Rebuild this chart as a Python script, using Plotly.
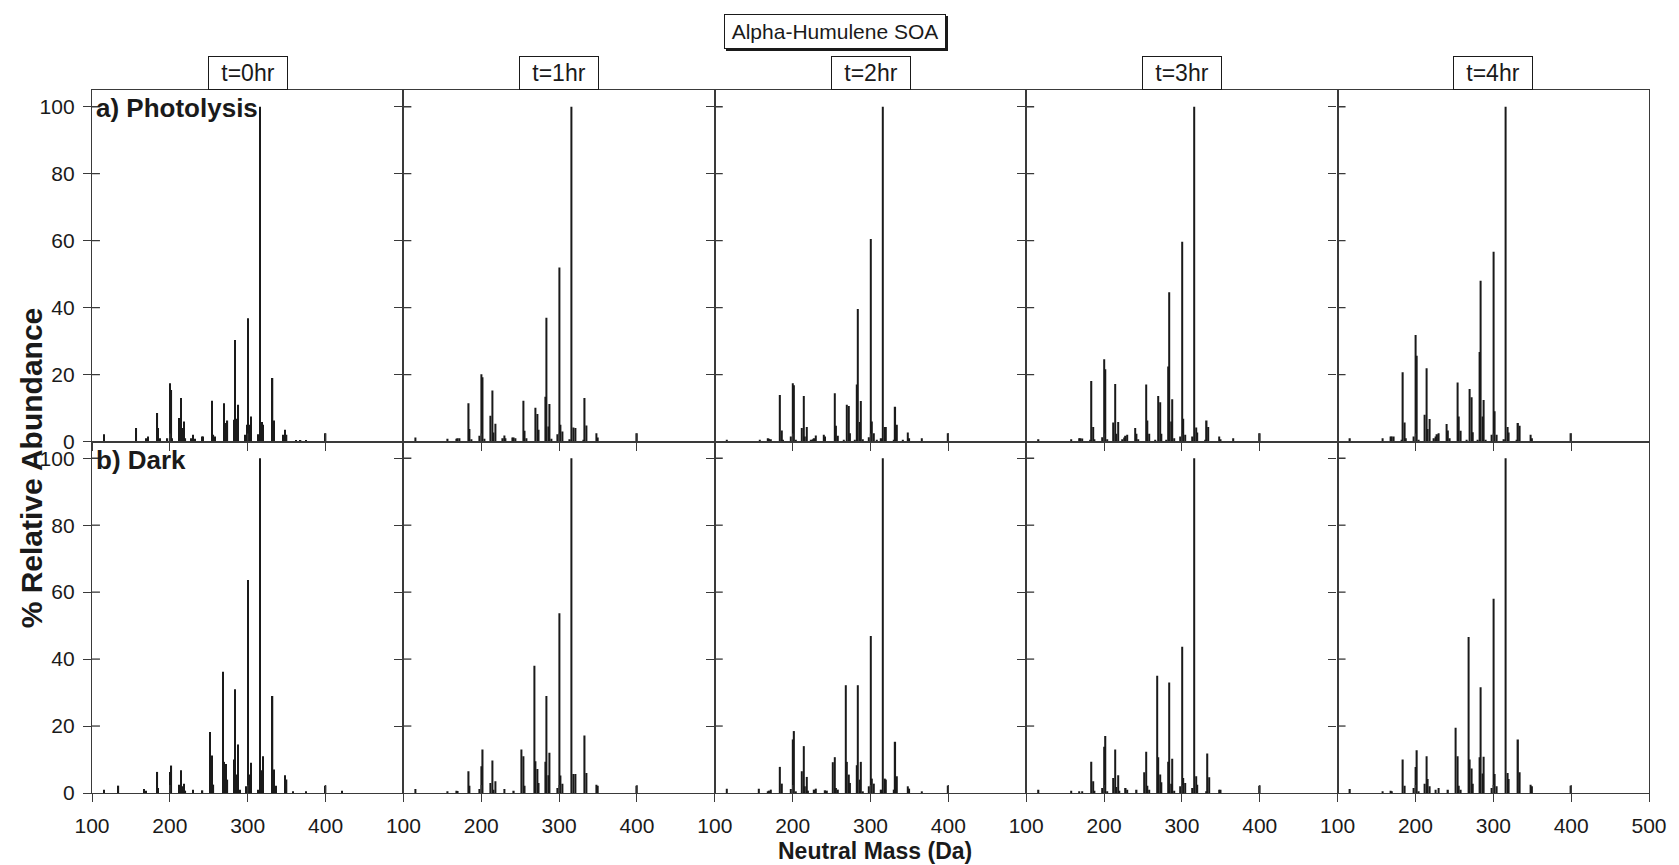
import plotly.graph_objects as go

# ---------------- data (neutral mass in Da, % relative abundance) ----------------
time_labels = ["t=0hr", "t=1hr", "t=2hr", "t=3hr", "t=4hr"]
row_labels = ["a) Photolysis", "b) Dark"]
x_tick_vals = [100, 200, 300, 400, 500]
y_tick_vals = [0, 20, 40, 60, 80, 100]

photo_t0_mass = [115, 157, 169, 172, 184, 185, 187, 197, 200, 202, 203, 212, 214, 216, 218, 220, 228, 230, 232, 241, 243,
                 254, 256, 258, 270, 272, 274, 282, 284, 286, 288, 297, 299, 300, 302, 304, 314, 316, 318, 320, 331, 332,
                 334, 346, 348, 350, 362, 368, 375, 400]
photo_t0_abund = [2.2, 4, 1.0, 1.5, 8.5, 4, 1, 1, 17.4, 15.4, 1, 7, 13, 4, 6, 1, 1, 2, 0.8, 1.5, 1.5,
                  12.2, 2, 1.5, 11.4, 5.5, 6.3, 6.5, 30.3, 6.8, 11, 2, 5, 36.8, 5, 7.5, 2.2, 100, 5.8, 5, 1, 19,
                  6.3, 2, 3.5, 2, 0.3, 0.3, 0.3, 2.5]

photo_t1_mass = [115, 157, 168, 170, 172, 184, 185, 187, 198, 200, 202, 204, 212, 214, 216, 218, 228, 230, 231, 240, 242,
                 244, 254, 256, 258, 270, 272, 274, 282, 284, 286, 288, 290, 298, 300, 302, 304, 314, 316, 318, 321, 331,
                 333, 335, 348, 350, 400]
photo_t1_abund = [1.2, 0.8, 0.8, 1, 1, 11.4, 3.7, 0.7, 1.7, 20.1, 19.2, 0.8, 7.7, 15.2, 2.7, 5.3, 1, 1.8, 1, 1.2, 1.2,
                  1, 12.2, 3.2, 1, 10.1, 8.2, 3.5, 13.4, 37, 4.5, 11.2, 0.8, 2.2, 52, 5, 3, 0.7, 100, 4.2, 4, 0.5,
                  13, 4.8, 2.5, 1.2, 2.5]

photo_t2_mass = [115, 158, 168, 170, 172, 184, 186, 188, 198, 200, 202, 204, 212, 214, 216, 218, 224, 226, 228, 230, 240,
                 242, 254, 256, 258, 266, 270, 272, 274, 280, 282, 284, 286, 288, 290, 298, 300, 302, 304, 308, 314, 316,
                 318, 320, 330, 332, 334, 342, 348, 350, 366, 400]
photo_t2_abund = [0.5, 0.5, 1, 0.8, 0.7, 13.9, 3.3, 0.5, 1.5, 17.4, 16.8, 0.5, 4, 13.6, 1.5, 4.3, 0.5, 0.7, 1, 1.8, 2,
                  1.5, 14.4, 4.7, 1.7, 0.5, 11, 10.6, 2.5, 0.5, 17, 39.6, 5.8, 12.1, 0.7, 1.3, 60.5, 6, 2.5, 0.5, 1, 100,
                  4.3, 4.3, 0.5, 10.4, 5, 0.5, 2.7, 1, 1, 2.5]

photo_t3_mass = [116, 158, 168, 170, 172, 182, 184, 186, 188, 198, 200, 202, 204, 212, 214, 216, 218, 224, 226, 228, 230,
                 240, 242, 244, 254, 256, 258, 266, 270, 272, 274, 280, 282, 284, 286, 288, 290, 298, 300, 302, 304, 314,
                 316, 318, 320, 330, 332, 334, 348, 350, 366, 400]
photo_t3_abund = [0.7, 0.7, 1, 1, 0.9, 0.5, 18.1, 4.3, 0.7, 1.3, 24.6, 21.6, 0.7, 5.7, 17.2, 2.3, 5.8, 0.7, 1.2, 1.7, 2,
                  4, 2.3, 0.7, 17, 6.3, 2.3, 0.5, 13.6, 11.7, 2.3, 0.5, 22.4, 44.6, 6, 12.6, 1, 1.5, 59.7, 6.8, 2, 1.5,
                  100, 4.2, 2.7, 0.5, 6.3, 4.3, 1.5, 0.7, 1, 2.5]

photo_t4_mass = [116, 158, 168, 170, 172, 182, 184, 186, 188, 198, 200, 202, 204, 212, 214, 216, 218, 224, 226, 228, 230,
                 240, 242, 244, 254, 256, 258, 266, 270, 272, 274, 280, 282, 284, 286, 288, 290, 298, 300, 302, 304, 314,
                 316, 318, 320, 330, 332, 334, 348, 350, 400]
photo_t4_abund = [1, 1, 1.5, 1.5, 1.5, 0.5, 20.7, 5.7, 1, 1.5, 31.8, 25.6, 0.5, 8, 21.9, 3.7, 6.7, 1, 1.5, 2.2, 2.5,
                  5.2, 3.3, 1, 17.6, 7.5, 3.2, 0.5, 15.7, 13.2, 2.8, 0.5, 26.7, 48, 7.5, 12.4, 0.5, 2, 56.7, 9, 2, 0.7,
                  100, 4.3, 2.7, 0.5, 5.5, 4.7, 2, 1, 2.5]

dark_t0_mass = [115, 134, 167, 169, 184, 185, 200, 202, 212, 214, 216, 218, 220, 230, 242, 252, 254, 256, 268, 270, 272,
                274, 282, 284, 286, 288, 290, 298, 300, 302, 304, 314, 316, 318, 320, 331, 332, 334, 336, 348, 350, 358,
                375, 400, 421]
dark_t0_abund = [1, 2.2, 1.2, 0.7, 6.3, 1.5, 6.3, 8.2, 2.5, 6.8, 2, 2.8, 0.7, 1, 0.8, 18.2, 11.2, 2.5, 36.2, 9.3, 8.7,
                 4, 10, 31, 5.5, 14.5, 1, 2, 63.6, 5.5, 9, 1, 100, 6.8, 11, 0.7, 29, 7, 2.2, 5.3, 4, 0.5,
                 0.5, 2.2, 0.7]

dark_t1_mass = [115, 157, 168, 170, 184, 185, 198, 200, 202, 212, 214, 216, 218, 230, 242, 252, 254, 256, 268, 270, 272,
                274, 282, 284, 286, 288, 298, 300, 302, 304, 316, 318, 321, 333, 335, 348, 350, 400]
dark_t1_abund = [1.2, 0.5, 0.7, 0.6, 6.5, 2.2, 1.2, 8, 13, 3, 9.7, 1, 3.5, 1.2, 0.7, 13, 11, 2.2, 38, 9.5, 7.2,
                 3, 9.3, 29, 5.3, 12, 1.5, 53.7, 5.2, 2.8, 100, 5.7, 5.7, 17.2, 6, 2.5, 2.2, 2.2]

dark_t2_mass = [115, 157, 168, 170, 172, 184, 186, 198, 200, 202, 204, 212, 214, 216, 218, 220, 228, 230, 242, 244, 252,
                254, 256, 258, 268, 270, 272, 274, 282, 284, 286, 288, 290, 298, 300, 302, 304, 314, 316, 318, 320, 330,
                332, 334, 348, 350, 366, 400]
dark_t2_abund = [1.3, 1.3, 0.5, 0.7, 1, 7.8, 2.8, 1.2, 16, 18.5, 0.5, 6.5, 14, 2, 4.8, 0.7, 1, 1.3, 0.8, 0.7, 9.2,
                 10.7, 1.5, 1, 32.2, 9.3, 5.5, 3, 8.3, 32.2, 4, 9.3, 0.5, 2, 46.9, 4.3, 2.8, 1, 100, 4.3, 4, 1,
                 15.3, 5, 2, 1.3, 0.5, 2.2]

dark_t3_mass = [116, 158, 168, 172, 184, 186, 188, 198, 200, 202, 204, 212, 214, 216, 218, 220, 228, 230, 242, 252, 254,
                256, 258, 268, 270, 272, 274, 282, 284, 286, 288, 290, 298, 300, 302, 304, 314, 316, 318, 320, 331, 333,
                335, 348, 350, 400]
dark_t3_abund = [1, 0.7, 0.5, 0.5, 9.3, 3.5, 0.7, 1.5, 13.8, 17, 0.5, 4.5, 13, 1.8, 5.3, 0.7, 1.5, 1, 1, 6.2, 12.3,
                 2.2, 1, 35, 10.7, 5.5, 3.2, 9.3, 33, 2.8, 10.2, 0.7, 2, 43.7, 4.5, 3, 1.5, 100, 5, 2.5, 0.5, 11.8,
                 4.7, 1, 1, 2.2]

dark_t4_mass = [116, 158, 168, 170, 184, 186, 198, 200, 202, 204, 212, 214, 216, 218, 226, 230, 242, 252, 254, 256, 258,
                268, 270, 272, 274, 282, 284, 286, 288, 298, 300, 302, 304, 316, 318, 320, 332, 334, 348, 350, 400]
dark_t4_abund = [1.2, 0.5, 0.7, 0.5, 10, 2.2, 1.5, 7.8, 12.8, 0.5, 2.8, 11, 4.2, 2, 1, 1.5, 1, 19.5, 11, 2.2, 1,
                 46.6, 10, 7.3, 2.8, 10.7, 31.6, 5.8, 10.8, 1.5, 58, 5.7, 2, 100, 6, 4.2, 16, 6.2, 2.5, 2, 2.2]

photo_mass = [photo_t0_mass, photo_t1_mass, photo_t2_mass, photo_t3_mass, photo_t4_mass]
photo_abund = [photo_t0_abund, photo_t1_abund, photo_t2_abund, photo_t3_abund, photo_t4_abund]
dark_mass = [dark_t0_mass, dark_t1_mass, dark_t2_mass, dark_t3_mass, dark_t4_mass]
dark_abund = [dark_t0_abund, dark_t1_abund, dark_t2_abund, dark_t3_abund, dark_t4_abund]

# ---------------- layout constants ----------------
W, H = 1679, 865
ML, MR, MT, MB = 92, 21, 90, 72
PW, PH = W - ML - MR, H - MT - MB
PANEL_W, PANEL_H = PW / 5, PH / 2
FONT = "Liberation Sans, Arial, sans-serif"
INK = "#1a1a1a"
LINE = "#3a3a3a"
TICK_IN = 8

fig = go.Figure()
layout = dict(
    width=W, height=H,
    margin=dict(l=ML, r=MR, t=MT, b=MB),
    paper_bgcolor="white", plot_bgcolor="white",
    showlegend=False, barmode="overlay",
    font=dict(family=FONT, size=21, color=INK),
)
shapes = []
annotations = []

for r in range(2):
    masses = photo_mass if r == 0 else dark_mass
    abunds = photo_abund if r == 0 else dark_abund
    for c in range(5):
        idx = r * 5 + c + 1
        xa = "x" if idx == 1 else f"x{idx}"
        ya = "y" if idx == 1 else f"y{idx}"
        fig.add_trace(go.Bar(
            x=masses[c], y=abunds[c], width=1.7,
            marker=dict(color=INK, line=dict(width=0)),
            xaxis=xa, yaxis=ya, hoverinfo="x+y",
        ))
        xt = x_tick_vals if c == 4 else x_tick_vals[:-1]
        layout["xaxis" if idx == 1 else f"xaxis{idx}"] = dict(
            domain=[c / 5, (c + 1) / 5], anchor=ya, range=[100, 500],
            showline=True, mirror=True, linecolor=LINE, linewidth=1.3,
            showgrid=False, zeroline=False,
            ticks="outside", ticklen=8, tickwidth=1.3, tickcolor=LINE,
            tickvals=xt, ticktext=[str(v) for v in xt],
            showticklabels=(r == 1), ticklabelstandoff=6,
            tickfont=dict(size=21, family=FONT, color=INK),
        )
        layout["yaxis" if idx == 1 else f"yaxis{idx}"] = dict(
            domain=[0.5, 1] if r == 0 else [0, 0.5], anchor=xa, range=[0, 105],
            showline=True, mirror=True, linecolor=LINE, linewidth=1.3,
            showgrid=False, zeroline=False,
            ticks="outside", ticklen=8, tickwidth=1.3, tickcolor=LINE,
            tickvals=y_tick_vals, ticktext=[str(v) for v in y_tick_vals],
            showticklabels=(c == 0), ticklabelstandoff=4,
            tickfont=dict(size=21, family=FONT, color=INK),
        )
        # inward halves of the crossing tick marks
        for v in xt[1:]:
            if v == 500:
                continue
            shapes.append(dict(type="line", xref=xa, yref=f"{ya} domain", x0=v, x1=v,
                               y0=0, y1=TICK_IN / PANEL_H,
                               line=dict(color=LINE, width=1.3)))
        for v in y_tick_vals[1:]:
            shapes.append(dict(type="line", xref=f"{xa} domain", yref=ya, y0=v, y1=v,
                               x0=0, x1=TICK_IN / PANEL_W,
                               line=dict(color=LINE, width=1.3)))
    # row label
    annotations.append(dict(
        text="<b>%s</b>" % row_labels[r], xref="x domain" if r == 0 else "x6 domain",
        yref="y domain" if r == 0 else "y6 domain", x=0, y=1, xanchor="left", yanchor="top",
        xshift=2, yshift=-1, showarrow=False, font=dict(size=26, family=FONT, color=INK),
    ))

# column titles in boxes
for c in range(5):
    annotations.append(dict(
        text=time_labels[c], xref="paper", yref="paper", x=(c + 0.5) / 5, y=1,
        xanchor="center", yanchor="bottom", showarrow=False,
        font=dict(size=23, family=FONT, color=INK), width=72, height=26,
        bordercolor=INK, borderwidth=1, borderpad=3, bgcolor="white",
    ))

# main title with drop shadow
title_x = (W / 2 - ML) / PW
title_y = (H - MB - 31) / PH
for shadow in (True, False):
    annotations.append(dict(
        text="Alpha-Humulene SOA", xref="paper", yref="paper", x=title_x, y=title_y,
        xanchor="center", yanchor="middle", showarrow=False,
        xshift=2 if shadow else 0, yshift=-2 if shadow else 0,
        font=dict(size=21, family=FONT, color=INK), width=214, height=27,
        bordercolor=INK, borderwidth=1, borderpad=3, bgcolor=INK if shadow else "white",
    ))

# axis titles
annotations.append(dict(
    text="<b>% Relative Abundance</b>", xref="paper", yref="paper",
    x=(31 - ML) / PW, y=(H - MB - 468) / PH, xanchor="center", yanchor="middle",
    textangle=-90, showarrow=False, font=dict(size=30, family=FONT, color=INK),
))
annotations.append(dict(
    text="<b>Neutral Mass (Da)</b>", xref="paper", yref="paper",
    x=(880 - ML) / PW, y=(H - MB - 851) / PH, xanchor="center", yanchor="middle",
    showarrow=False, font=dict(size=23, family=FONT, color=INK),
))

layout["shapes"] = shapes
layout["annotations"] = annotations
fig.update_layout(**layout)
fig.write_html("out.html")
